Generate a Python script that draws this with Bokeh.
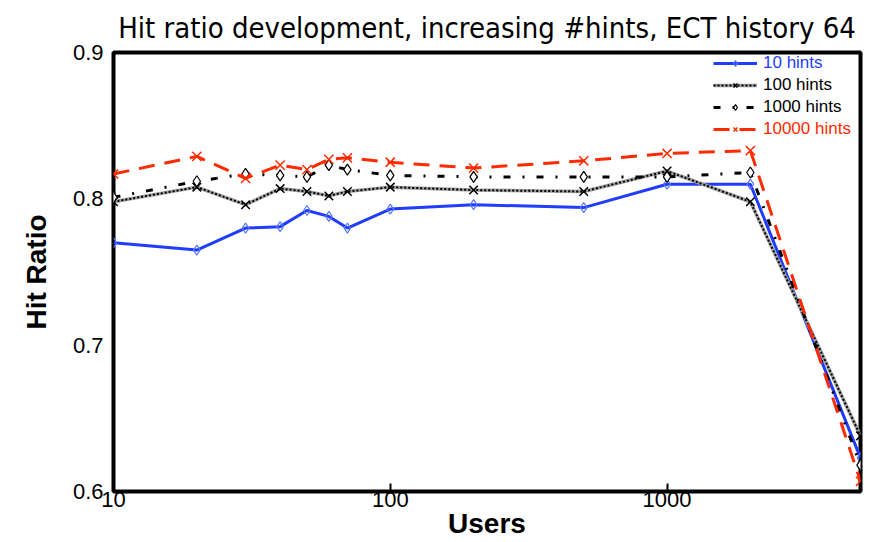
from bokeh.plotting import figure
from bokeh.models import FixedTicker, PrintfTickFormatter, Legend, LegendItem, Range1d
from bokeh.embed import file_html
from bokeh.resources import INLINE

users = [10, 20, 30, 40, 50, 60, 70, 100, 200, 500, 1000, 2000, 5000]
hints_10 = [0.770, 0.765, 0.780, 0.781, 0.792, 0.788, 0.780, 0.793, 0.796, 0.794, 0.810, 0.810, 0.623]
hints_100 = [0.798, 0.808, 0.796, 0.807, 0.805, 0.802, 0.805, 0.808, 0.806, 0.805, 0.819, 0.798, 0.638]
hints_1000 = [0.801, 0.812, 0.817, 0.816, 0.815, 0.823, 0.820, 0.816, 0.815, 0.815, 0.815, 0.818, 0.618]
hints_10000 = [0.817, 0.829, 0.814, 0.823, 0.820, 0.827, 0.828, 0.825, 0.821, 0.826, 0.831, 0.833, 0.607]

x_ticks = [10, 100, 1000]
y_ticks = [0.6, 0.7, 0.8, 0.9]

p = figure(width=878, height=542, x_axis_type="log", output_backend="svg",
           toolbar_location=None, x_range=Range1d(10, 5000), y_range=Range1d(0.6, 0.9),
           min_border_left=113, min_border_right=18, min_border_top=50, min_border_bottom=51,
           title="Hit ratio development, increasing #hints, ECT history 64")
p.background_fill_color = "white"
p.border_fill_color = "white"
p.outline_line_color = "black"
p.outline_line_width = 4
p.grid.visible = False

p.title.text_font = "DejaVu Sans Condensed"
p.title.text_font_size = "29px"
p.title.text_font_style = "normal"
p.title.align = "center"
p.title.text_color = "black"
p.title.standoff = 16

xa = p.xaxis[0]
xa.ticker = FixedTicker(ticks=x_ticks)
xa.formatter = PrintfTickFormatter(format="%d")
xa.axis_line_color = None
xa.major_tick_in = 8
xa.major_tick_out = 0
xa.major_tick_line_width = 2
xa.minor_tick_line_color = None
xa.major_label_text_font = "Liberation Sans"
xa.major_label_text_font_size = "22px"
xa.major_label_text_color = "black"
xa.major_label_standoff = 0
xa.axis_label = "Users"
xa.axis_label_text_font = "Liberation Sans"
xa.axis_label_text_font_style = "bold"
xa.axis_label_text_font_size = "28px"
xa.axis_label_text_color = "black"
xa.axis_label_standoff = -2

ya = p.yaxis[0]
ya.ticker = FixedTicker(ticks=y_ticks)
ya.formatter = PrintfTickFormatter(format="%.1f")
ya.axis_line_color = None
ya.major_tick_in = 0
ya.major_tick_out = 0
ya.minor_tick_line_color = None
ya.major_label_text_font = "Liberation Sans"
ya.major_label_text_font_size = "22px"
ya.major_label_text_color = "black"
ya.major_label_standoff = 10
ya.axis_label = "Hit Ratio"
ya.axis_label_text_font = "Liberation Sans"
ya.axis_label_text_font_style = "bold"
ya.axis_label_text_font_size = "28px"
ya.axis_label_text_color = "black"
ya.axis_label_standoff = 18

blue = "#1f3cff"
red = "#ff2a00"

# 10 hints
l1 = p.line(users, hints_10, line_color=blue, line_width=3)
m1 = p.scatter(users, hints_10, marker="diamond", size=10, fill_color=None, line_color="#5a78ff", line_width=1.2)

# 100 hints
l2h = p.line(users, hints_100, line_color="#a0a0a0", line_width=3.5)
l2 = p.line(users, hints_100, line_color="black", line_width=2, line_dash="2 2")
m2 = p.scatter(users, hints_100, marker="x", size=12, line_color="black", line_width=1.5)

# 1000 hints
l3 = p.line(users, hints_1000, line_color="black", line_width=3, line_dash="7 12 2 12")
m3 = p.scatter(users, hints_1000, marker="diamond", size=11, fill_color="white", line_color="black", line_width=1.2)

# 10000 hints
l4 = p.line(users, hints_10000, line_color=red, line_width=3, line_dash="16 10")
m4 = p.scatter(users, hints_10000, marker="x", size=13, line_color=red, line_width=1.5)

entries = [("10 hints", [l1, m1], blue), ("100 hints", [l2h, l2, m2], "black"),
           ("1000 hints", [l3, m3], "black"), ("10000 hints", [l4, m4], red)]
for i, (lab, rends, col) in enumerate(entries):
    lg = Legend(items=[LegendItem(label=lab, renderers=rends)],
                location=(600, 418 - i * 22),
                background_fill_alpha=0, border_line_color=None,
                label_text_color=col, label_text_font="Liberation Sans",
                label_text_font_size="17px", glyph_width=44, glyph_height=14,
                padding=0, margin=0, spacing=0, label_standoff=6, label_height=14)
    p.add_layout(lg)

open("out.html", "w").write(file_html(p, INLINE))
